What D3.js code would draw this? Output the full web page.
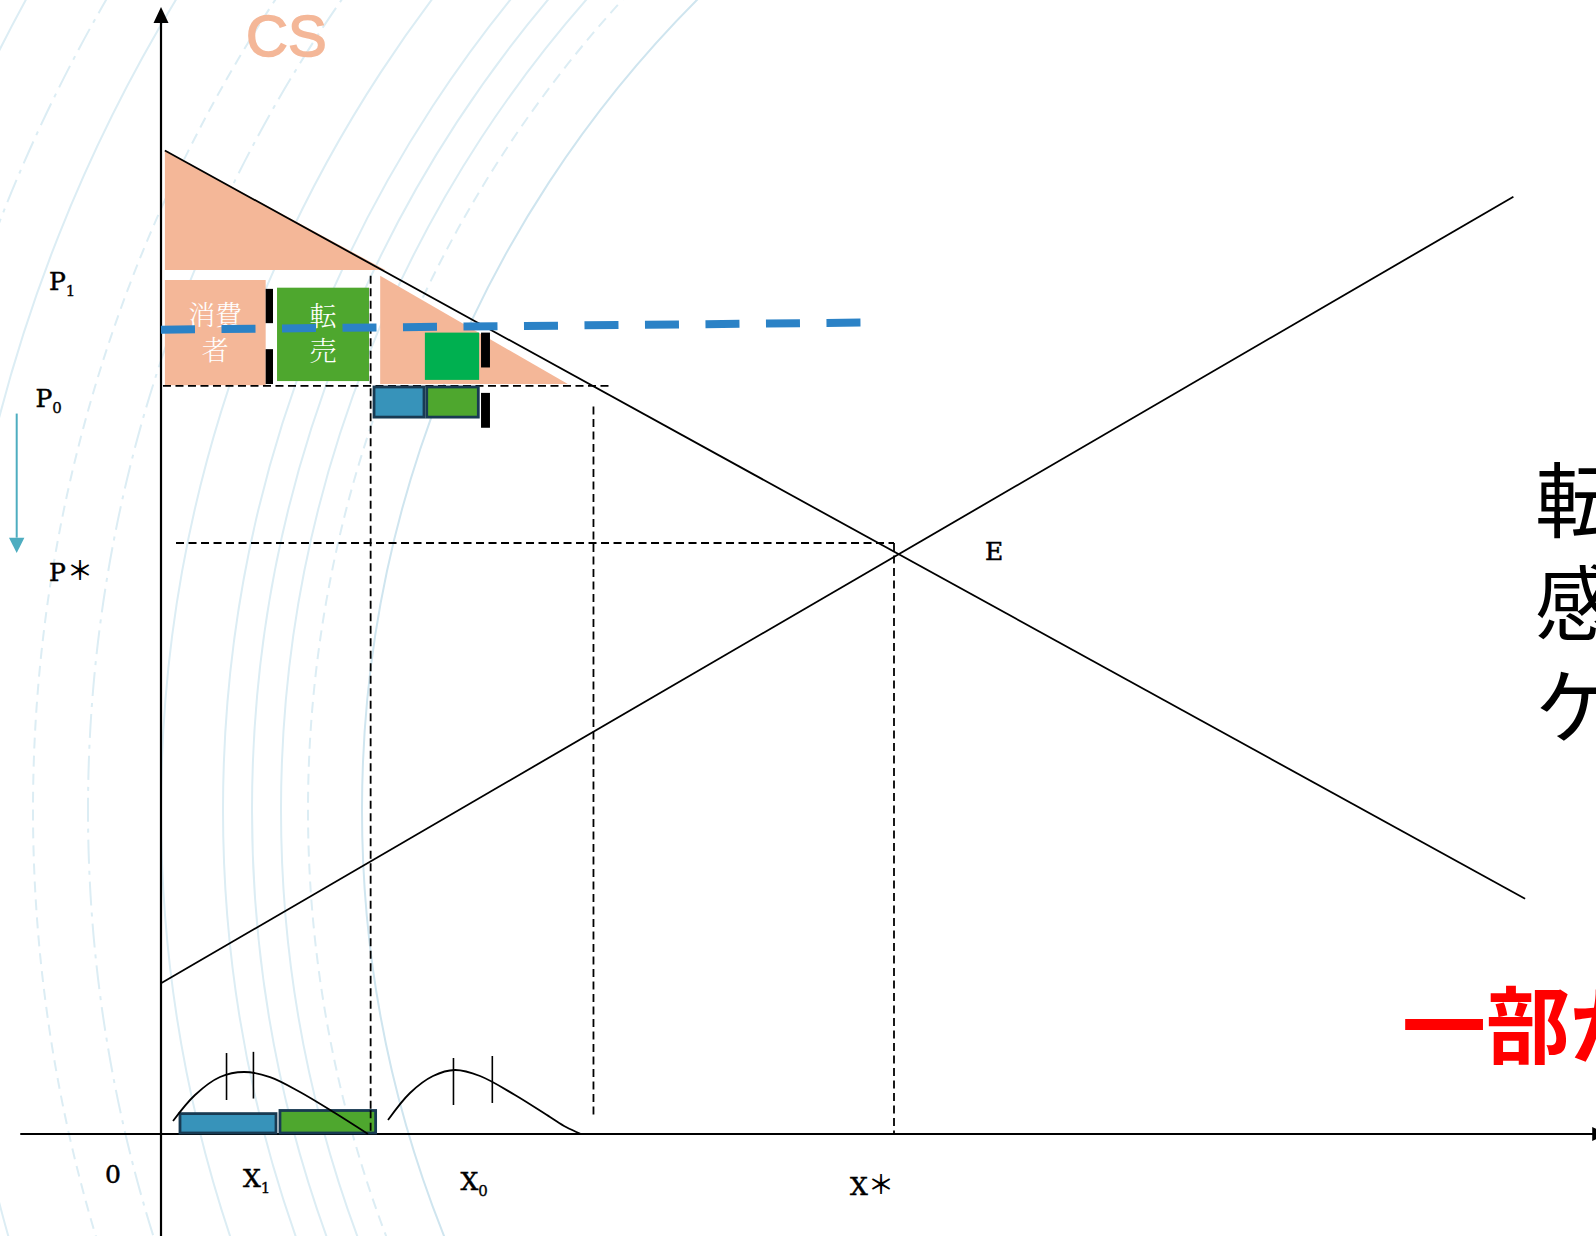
<!DOCTYPE html>
<html><head><meta charset="utf-8">
<script src="https://cdn.jsdelivr.net/npm/d3@7"></script>
<style>html,body{margin:0;padding:0;background:#fff;overflow:hidden}</style>
</head><body>
<svg id="chart" width="1596" height="1236" xmlns="http://www.w3.org/2000/svg"></svg>
<script>
// ---------- DATA (quantity Q, price P; X* = 100, P* = 100) ----------
const P1 = 146.2, P0 = 126.6, PSTAR = 100;
const X1 = 28.6, X0 = 59.0, XSTAR = 100;

const demandLine = [[0.53, 166.4], [186.1, 39.8]];
const supplyLine = [[0, 25.5], [184.5, 158.6]];

const csTriangle = [[0.53, 166.4], [0.53, P1], [30.6, P1]];
const resaleTriangle = [[29.9, 145.2], [29.9, 126.9], [55.5, 126.9]];

// [name, q0, q1, p0, p1]
const filledBlocks = [
  ["consumer", 0.53, 14.28, 126.7, 144.5],
  ["resale", 15.83, 28.38, 127.4, 143.2],
  ["resaleSmall", 36.0, 43.4, 127.6, 135.6],
  ["bar", 14.28, 15.28, 137.2, 143.0],
  ["bar", 14.28, 15.28, 126.9, 132.8],
  ["bar", 43.66, 44.88, 129.7, 135.6],
  ["bar", 43.66, 44.88, 119.5, 125.4]
];
const outlinedBlocks = [
  ["blue", 29.06, 35.88, 121.3, 126.4],
  ["green", 36.25, 43.29, 121.3, 126.4],
  ["blue", 2.59, 15.69, 0.17, 3.45],
  ["green", 16.23, 29.28, 0.17, 3.98]
];

const resaleCapLine = [[0, 136.1], [95.8, 137.3]];

const dashedSegments = [
  [[0.27, P0], [61.1, P0]],
  [[2.05, PSTAR], [XSTAR, PSTAR]],
  [[XSTAR, PSTAR], [XSTAR, 0]],
  [[X1, 145.2], [X1, 0]],
  [[X0, 123.1], [X0, 3.2]]
];

// distribution curves at the bottom
const curveLow = [[1.64,2.2],[4.64,6.6],[8.05,9.64],[11.32,10.49],[14.87,9.64],[18.96,7.11],[23.74,3.55],[28.24,0]];
const curveHigh = [[30.97,2.37],[33.97,6.94],[37.11,9.81],[40.11,10.83],[43.52,9.81],[48.29,6.6],[53.07,2.88],[55.25,1.18],[57.3,0]];
const curveTicks = [[8.94,5.75,13.7],[12.61,6.0,13.9],[39.9,4.91,12.86],[45.2,5.25,13.2]];

// axes extent
const axisQ = [-19.2, 195.8];
const axisP = [-17.3, 188.0];

// background decoration radii (px) and their line kinds
const bgRadii = [1147, 1201, 1228, 1257, 1286, 1348, 1421, 1476, 1560, 1620, 1690];
const bgKinds = ["solid2","dash","solid","solid","solid","solid","dashdot","dash","solid","dashdot","solid"];

// ---------- SCALES ----------
const x = d3.scaleLinear().domain([0, 100]).range([161, 894]);
const y = d3.scaleLinear().domain([0, 100]).range([1134, 543]);

const svg = d3.select("#chart");
const line = d3.line().x(d => x(d[0])).y(d => y(d[1]));

// ---------- BACKGROUND ARCS ----------
const bg = svg.append("g");
const dashMap = {solid:null, solid2:null, dash:"11,7", dashdot:"24,7,4,7"};
bg.selectAll("circle").data(bgRadii).join("circle")
  .attr("cx", 1509).attr("cy", 810).attr("r", d => d)
  .attr("fill", "none")
  .attr("stroke", (d, i) => bgKinds[i] === "solid2" ? "#cfe5ef" : "#dcedf4")
  .attr("stroke-width", 2)
  .attr("stroke-dasharray", (d, i) => dashMap[bgKinds[i]]);

// ---------- CS areas ----------
const salmon = "#f4b798";
svg.append("path").attr("d", line(csTriangle) + "Z").attr("fill", salmon);
svg.append("path").attr("d", line(resaleTriangle) + "Z").attr("fill", salmon);

const fillColor = {consumer: salmon, resale: "#4ea72e", resaleSmall: "#00b050", bar: "#000"};
svg.append("g").selectAll("rect").data(filledBlocks).join("rect")
  .attr("x", d => x(d[1])).attr("width", d => x(d[2]) - x(d[1]))
  .attr("y", d => y(d[4])).attr("height", d => y(d[3]) - y(d[4]))
  .attr("fill", d => fillColor[d[0]]);

// texts in blocks
const cjkLight = "'Noto Serif CJK JP','Noto Sans CJK JP',sans-serif";
const consumerBlock = filledBlocks[0], resaleBlock = filledBlocks[1];
function blockText(b, lines) {
  const cx = (x(b[1]) + x(b[2])) / 2;
  svg.append("g").selectAll("text").data(lines).join("text")
    .attr("x", cx).attr("y", d => y(b[4]) + d[1])
    .attr("text-anchor", "middle").attr("fill", "#fff")
    .attr("font-family", cjkLight).attr("font-weight", 300).attr("font-size", 27)
    .text(d => d[0]);
}
blockText(consumerBlock, [["消費", 45], ["者", 80]]);
blockText(resaleBlock, [["転", 38], ["売", 73]]);

// ---------- AXES ----------
const axes = svg.append("g").attr("stroke", "#000").attr("stroke-width", 2.2);
axes.append("line").attr("x1", x(axisQ[0])).attr("x2", x(axisQ[1])).attr("y1", y(0)).attr("y2", y(0));
axes.append("line").attr("x1", x(0)).attr("x2", x(0)).attr("y1", y(axisP[0])).attr("y2", y(axisP[1]));
svg.append("path").attr("fill", "#000")
  .attr("d", `M${x(0)-7.5},${y(axisP[1])}L${x(0)+7.5},${y(axisP[1])}L${x(0)},${y(axisP[1])-16}Z`);
svg.append("path").attr("fill", "#000")
  .attr("d", `M${x(axisQ[1])-4},${y(0)-7}L${x(axisQ[1])-4},${y(0)+7}L${x(axisQ[1])+11},${y(0)}Z`);

// ---------- DEMAND / SUPPLY ----------
svg.append("path").attr("d", line(demandLine)).attr("stroke", "#000").attr("stroke-width", 1.8).attr("fill", "none");
svg.append("path").attr("d", line(supplyLine)).attr("stroke", "#000").attr("stroke-width", 1.8).attr("fill", "none");

// ---------- DASHED GUIDES ----------
svg.append("g").selectAll("path").data(dashedSegments).join("path")
  .attr("d", d => line(d)).attr("stroke", "#000").attr("stroke-width", 1.8)
  .attr("stroke-dasharray", "8,4.5").attr("fill", "none");

// outlined blocks
const outFill = {blue: "#3793ba", green: "#4ea72e"};
svg.append("g").selectAll("rect").data(outlinedBlocks).join("rect")
  .attr("x", d => x(d[1])).attr("width", d => x(d[2]) - x(d[1]))
  .attr("y", d => y(d[4])).attr("height", d => y(d[3]) - y(d[4]))
  .attr("fill", d => outFill[d[0]]).attr("stroke", "#183a52").attr("stroke-width", 2.8);

// redraw dashed X1 over bottom rect (as in reference)
svg.append("path").attr("d", line([[X1, 4], [X1, 0]])).attr("stroke", "#000").attr("stroke-width", 1.8)
  .attr("stroke-dasharray", "8,4.5").attr("fill", "none");

// resale price line
svg.append("path").attr("d", line(resaleCapLine)).attr("stroke", "#2b82c6").attr("stroke-width", 8)
  .attr("stroke-dasharray", "34,26.5").attr("fill", "none");

// ---------- DISTRIBUTION CURVES ----------
const cl = d3.line().x(d => x(d[0])).y(d => y(d[1])).curve(d3.curveCatmullRom);
[curveLow, curveHigh].forEach(c => svg.append("path").attr("d", cl(c)).attr("fill", "none").attr("stroke", "#000").attr("stroke-width", 1.8));
svg.append("g").selectAll("line").data(curveTicks).join("line")
  .attr("x1", d => x(d[0])).attr("x2", d => x(d[0])).attr("y1", d => y(d[1])).attr("y2", d => y(d[2]))
  .attr("stroke", "#000").attr("stroke-width", 1.6);

// ---------- TEAL ARROW ----------
svg.append("line").attr("x1", 16.7).attr("x2", 16.7).attr("y1", y(121.9)).attr("y2", y(100.9))
  .attr("stroke", "#4eadc0").attr("stroke-width", 2);
svg.append("path").attr("fill", "#4eadc0").attr("d", `M9,${y(100.9)}L24.4,${y(100.9)}L16.7,${y(98.3)}Z`);

// ---------- LABELS ----------
const serif = "'DejaVu Serif',serif";
const cjk = "'Noto Sans CJK JP',sans-serif";
const labels = [
  {t: "P", s: "1", x: 49, y: 290},
  {t: "P", s: "0", x: 35.5, y: 407},
  {t: "X", s: "1", x: 243, y: 1187},
  {t: "X", s: "0", x: 460.5, y: 1190},
  {t: "E", s: "", x: 985, y: 560},
  {t: "0", s: "", x: 105, y: 1183}
];
labels.forEach(l => {
  const t = svg.append("text").attr("x", l.x).attr("y", l.y).attr("font-family", serif).attr("font-size", 25)
    .attr("fill", "#000").attr("stroke", "#000").attr("stroke-width", 0.5);
  t.append("tspan").text(l.t);
  if (l.s) t.append("tspan").attr("font-size", 15).attr("stroke-width", 0.3).attr("dy", 6).text(l.s);
});
const starLabels = [{t: "P", x: 49, y: 581}, {t: "X", x: 850, y: 1195}];
starLabels.forEach(l => {
  svg.append("text").attr("x", l.x).attr("y", l.y).attr("font-family", serif).attr("font-size", 25)
    .attr("stroke", "#000").attr("stroke-width", 0.5).text(l.t);
  svg.append("text").attr("x", l.x + 18).attr("y", l.y - 1).attr("font-family", cjk).attr("font-weight", 500)
    .attr("font-size", 26).text("＊");
});

// CS title
svg.append("text").attr("x", 246).attr("y", 56).attr("font-family", "'Liberation Sans',Arial,sans-serif")
  .attr("font-size", 58).attr("fill", salmon).attr("stroke", salmon).attr("stroke-width", 1.6).text("CS");

// right side text (cut off at the right edge, as in the reference)
const sideLines = ["転", "感", "ケ"];
svg.append("g").selectAll("text").data(sideLines).join("text")
  .attr("x", 1535).attr("y", (d, i) => 531 + i * 103)
  .attr("font-family", cjk).attr("font-size", 82).attr("fill", "#000").text(d => d);

svg.append("text").attr("x", 1402).attr("y", 1057).attr("font-family", cjk).attr("font-weight", 700)
  .attr("font-size", 84).attr("fill", "#ff0000").text("一部が");
</script>
</body></html>
